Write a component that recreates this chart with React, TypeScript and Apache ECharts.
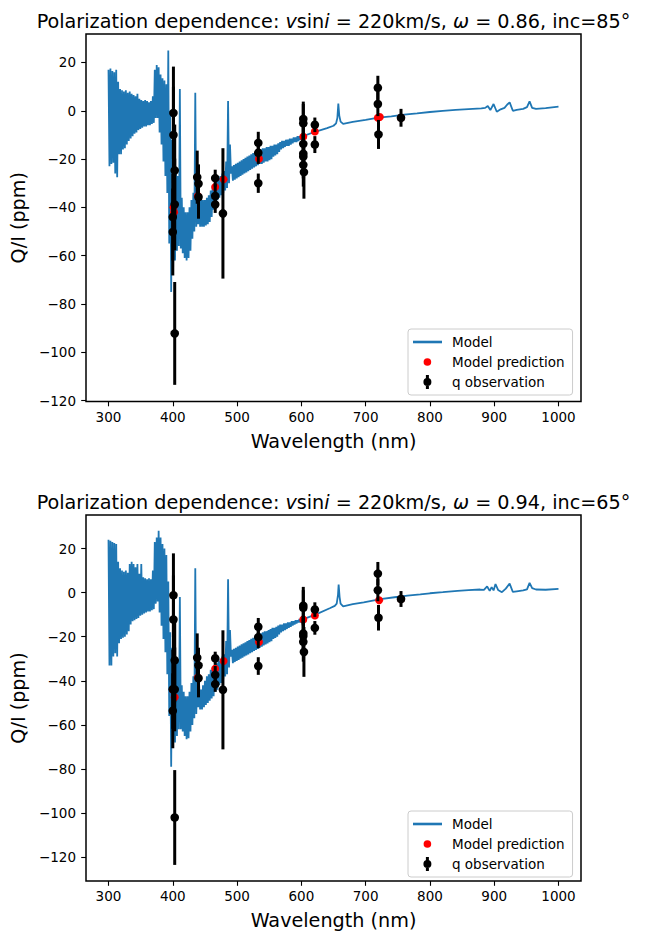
import React, { useEffect, useRef } from 'react';
import * as echarts from 'echarts';

const FONT = 'DejaVu Sans';
const BLUE = '#1f77b4';

// ---- axes ----
const X_TICKS = [300, 400, 500, 600, 700, 800, 900, 1000];
const Y_TICKS = [-120, -100, -80, -60, -40, -20, 0, 20];

// ---- titles ----
const OMEGAS = ['0.86', '0.94'];
const INCLINATIONS = ['85', '65'];

// ---- model spectrum: noisy band 300..597 nm, 3 nm steps (upper / lower envelope) ----
const BAND_START = 300;
const BAND_STEP = 3;

const MODEL1_UPPER = [
  17, 17.5, 16.5, 16, 17, 12, 9, 8.5, 8, 8.5,
  7.5, 8, 7, 6.5, 6, 7, 5, 4.5, 4, 4.5,
  4, 3.5, 4, 6, 17, 19, 18, 15, 13.5, 12.5,
  11, 25, 0, -12, -20, -25, -27, 9, -36, -40,
  -42, -42, -40, -37, -34, 7.5, -32, -34, -36, -37,
  -37, -36, -35, -33, -31, -30, -29, -28, -27, -26,
  -25, -21, 4, -14, -23, -22.5, -22, -21.5, -21, -20.5,
  -20, -19.5, -19, -18.5, -18, -17.5, -17, -16.5, -16.5, -16,
  -15.5, -15.5, -15, -15, -14.5, -14.5, -14, -14, -13.5, -13,
  -12.5, -12.5, -12, -12, -11.5, -11.5, -11, -11, -10.5, -10.5,
];
const MODEL1_LOWER = [
  -23, -22, -21.5, -26, -27.5, -18, -18, -16, -15.5, -14,
  -12.5, -11.5, -10.5, -9.5, -9, -8, -7.5, -7, -6.5, -6.5,
  -6, -6, -5.5, -5, -3, -3, -9, -14, -21, -27,
  -34, -55, -75, -66, -62, -58, -56, -57, -59, -61,
  -62, -61, -58, -53, -50, -48, -47, -48, -48, -48,
  -47.5, -47, -46, -44, -41, -39, -37, -36, -35, -34,
  -33, -32, -30, -26, -29, -28.5, -28, -27.5, -27, -26.5,
  -26, -25.5, -25, -24.5, -24, -23.5, -23, -22.5, -22, -22,
  -21.5, -21, -21, -20.5, -20, -19, -18.5, -18, -17, -16,
  -15.5, -15, -14.5, -14.5, -14, -13.5, -13, -13, -12.5, -12,
];
const MODEL1_TAIL_WL = [
  600, 620, 640, 650, 654, 656, 657.5, 659, 661, 665,
  680, 700, 720, 740, 760, 780, 800, 820, 840, 860,
  880, 886, 890, 894, 899, 904, 910, 916, 920, 924,
  929, 935, 945, 951, 955, 959, 965, 980, 1000,
];
const MODEL1_TAIL_Q = [
  -10.8, -8.8, -7.2, -6.2, -5.2, -3, 3, -2, -4.5, -5.4,
  -4.6, -3.8, -2.8, -2.3, -1.6, -1.1, -0.5, 0, 0.4, 0.7,
  1, 1.2, 2, 0.3, 2.8, -0.4, 0.6, 1.2, 2.5, 3.5,
  0, 0.4, 0.8, 1.5, 3.9, 1.2, 0.8, 1.1, 1.7,
];

const MODEL2_UPPER = [
  24, 23.5, 23, 22.5, 22, 14, 11, 10, 9.5, 10,
  9, 13, 14, 13, 11.5, 13, 8.5, 13, 7, 6.5,
  6, 6.5, 6, 10, 23, 25, 28, 25, 22, 20,
  17, 5, -18, -25, -28, -30, -31, -2, -42, -45,
  -47, -47, -45, -41, -38, 11, -40, -42, -44, -42,
  -40, -38, -37, -35, -34, -33, -32, -31, -30, -29,
  -28, -22, 6, -17, -26, -25.5, -25, -24.5, -24, -23.5,
  -23, -22.5, -22, -21.5, -21, -20.5, -20, -19.5, -19, -18.5,
  -18, -17.5, -17.5, -17, -16.5, -16, -16, -15.5, -15, -14.5,
  -14.5, -14, -14, -13.5, -13.5, -13, -13, -12.5, -12.5, -12,
];
const MODEL2_LOWER = [
  -33, -33, -29, -27.5, -29, -23, -21, -20.5, -20, -19,
  -17.5, -14.5, -13, -12.5, -12, -11.5, -10.5, -10, -9.5, -9,
  -8.5, -8.5, -8, -7.5, -5, -4, -9, -15, -21, -27,
  -37, -56, -79, -70, -68, -65, -62, -62, -63, -65,
  -66.5, -66, -63, -60, -57, -55, -52, -53, -53, -52,
  -51, -50, -49, -48, -47, -45, -44, -42, -41, -39,
  -38, -37, -34, -29, -32, -31.5, -31, -30.5, -30, -29.5,
  -29, -28.5, -28, -27.5, -27, -26.5, -26, -25.5, -25, -24.5,
  -24, -23.5, -23, -22.5, -22, -21, -20.5, -20, -19, -18,
  -17.5, -17, -16.5, -16, -15.5, -15, -14.5, -14, -13.5, -13.5,
];
const MODEL2_TAIL_WL = [
  600, 622, 645, 652, 655, 657, 658, 659.5, 661, 665,
  680, 697, 723, 745, 765, 785, 800, 820, 843, 860,
  878, 884, 889, 893, 896, 899, 902, 906, 912, 918,
  924, 929, 935, 945, 951, 955, 959, 965, 980, 1000,
];
const MODEL2_TAIL_Q = [
  -12.4, -10, -7, -6, -5, -1, 3.6, -2, -5, -6.2,
  -5.2, -4.4, -3, -2.1, -1.4, -0.8, -0.3, 0.2, 0.8, 1.1,
  1.4, 1.2, 2.8, 0.8, 2.5, 1, 3.9, 1.2, 0.2, 1.8,
  4.1, 0.3, 0.6, 1, 1.5, 4.4, 2, 1.4, 1.3, 1.7,
];

// ---- model predictions (wavelength, Q/I) ----
const PRED1 = [
  [401, -40], [402, -42], [439, -35.3], [466, -31.6], [479, -28.4],
  [534, -19.9], [603, -10.7], [621, -8.6], [719, -2.9], [722, -2.6], [755, -2.9],
];
const PRED2 = [
  [400, -44], [403, -47.5], [439, -38.5], [466, -34.5], [479, -31],
  [534, -22.4], [603, -12.2], [621, -10.4], [721, -3.5], [755, -2.9],
];

// ---- q observations (wavelength, Q/I, error) ----
const OBS1 = [
  [401, -0.9, 19.2], [401, -10, 20], [403, -24.7, 19], [403, -38.8, 19],
  [400, -44, 18], [400, -50.2, 18], [403, -92.2, 21.3],
  [438, -27.5, 11], [440, -30.2, 8], [440, -35.7, 9],
  [466, -27.9, 3.5], [466, -35.3, 5], [466, -38.8, 3.5], [478, -42.5, 27],
  [533, -13.3, 4.6], [533, -17.4, 4.6], [533, -30, 4],
  [603, -3.4, 7.2], [603, -5.2, 8], [603, -13.7, 7], [603, -17.8, 8],
  [603, -19, 9], [603, -22.4, 9], [604, -25.4, 11],
  [621, -5.8, 3], [621, -14, 3.5],
  [719, 9.5, 5], [719, 2.8, 5], [720, -9.8, 6],
  [755, -2.9, 3.7],
];
const OBS2 = [
  [401, -1.2, 19], [401, -12.2, 20], [403, -30.7, 19], [403, -43.9, 19],
  [400, -43.8, 18], [400, -53.6, 17], [403, -102, 21.5],
  [438, -29.5, 11], [440, -33, 8], [440, -38.8, 8.7],
  [466, -29.8, 3], [466, -37.3, 4], [466, -41.5, 3.5], [478, -44.1, 27],
  [533, -15.5, 4], [533, -20.2, 5], [533, -33.3, 4],
  [603, -5.9, 8.5], [603, -6.9, 8], [603, -18.5, 8], [603, -19.7, 8],
  [603, -22.3, 9], [604, -26.9, 11.3],
  [621, -7.7, 3.3], [621, -16, 3.1],
  [719, 8.6, 5.3], [719, 1.1, 5], [720, -11.4, 5.8],
  [755, -2.9, 3.6],
];

const Y_RANGES = [
  [-120.4, 31.8],
  [-130.8, 35.2],
];

function buildModel(up: number[], lo: number[], tw: number[], tq: number[]) {
  const pts: number[][] = [];
  up.forEach((u, i) => {
    const wl = BAND_START + BAND_STEP * i;
    pts.push([wl, u]);
    pts.push([wl + BAND_STEP / 2, lo[i]]);
  });
  tw.forEach((w, i) => pts.push([w, tq[i]]));
  return pts;
}

const minus = (v: number) => String(v).replace('-', '\u2212');

const LEGEND_ICON_LINE = 'path://M0,0L0,0M34,14L34,14M0,5.7H29V8.3H0Z';
const LEGEND_ICON_DOT = 'path://M0,0L0,0M34,14L34,14M14.4,3.2A3.8,3.8 0 1 1 14.4,10.8A3.8,3.8 0 1 1 14.4,3.2Z';
const LEGEND_ICON_ERR = 'path://M0,0L0,0M34,14L34,14M12.9,0H15.9V14H12.9ZM14.4,3A4,4 0 1 1 14.4,11A4,4 0 1 1 14.4,3Z';

export default function App() {
  const ref = useRef<HTMLDivElement>(null);
  useEffect(() => {
    if (!ref.current) return;
    const chart = echarts.init(ref.current, null, { renderer: 'svg' });
    const grids = [
      { left: 86, top: 34, width: 495, height: 367.5 },
      { left: 86, top: 515, width: 495, height: 368 },
    ];
    const models = [
      buildModel(MODEL1_UPPER, MODEL1_LOWER, MODEL1_TAIL_WL, MODEL1_TAIL_Q),
      buildModel(MODEL2_UPPER, MODEL2_LOWER, MODEL2_TAIL_WL, MODEL2_TAIL_Q),
    ];
    const preds = [PRED1, PRED2];
    const obs = [OBS1, OBS2];

    const series: any[] = [];
    [0, 1].forEach((g) => {
      series.push({
        name: 'Model',
        type: 'line',
        xAxisIndex: g,
        yAxisIndex: g,
        data: models[g],
        showSymbol: false,
        symbol: 'none',
        lineStyle: { color: BLUE, width: 1.8 },
        itemStyle: { color: BLUE },
        z: 2,
      });
      series.push({
        name: 'Model prediction',
        type: 'scatter',
        xAxisIndex: g,
        yAxisIndex: g,
        data: preds[g],
        symbol: 'circle',
        symbolSize: 8,
        itemStyle: { color: '#ff0000', opacity: 1 },
        z: 3,
      });
      series.push({
        name: 'q observation',
        type: 'custom',
        xAxisIndex: g,
        yAxisIndex: g,
        data: obs[g],
        encode: { x: 0, y: 1 },
        itemStyle: { color: '#000' },
        z: 4,
        renderItem: (params: any, api: any) => {
          const x = api.value(0);
          const y = api.value(1);
          const e = api.value(2);
          const top = api.coord([x, y + e]);
          const bot = api.coord([x, y - e]);
          const c = api.coord([x, y]);
          return {
            type: 'group',
            children: [
              {
                type: 'line',
                shape: { x1: top[0], y1: top[1], x2: bot[0], y2: bot[1] },
                style: { stroke: '#000', lineWidth: 3 },
              },
              {
                type: 'circle',
                shape: { cx: c[0], cy: c[1], r: 4.3 },
                style: { fill: '#000' },
              },
            ],
          };
        },
      });
    });

    const tickStyle = { show: true, inside: false, length: 4.8, lineStyle: { color: '#000', width: 1.1 } };

    const legendTops = [329, 811];

    const titleRich = {
      n: { fontSize: 19.2, fontFamily: FONT, fill: '#000' },
      i: { fontSize: 19.2, fontFamily: FONT, fontStyle: 'italic', fill: '#000' },
    };
    const titleYs = [21.5, 502.5];

    const option: any = {
      animation: false,
      backgroundColor: '#ffffff',
      textStyle: { fontFamily: FONT },
      grid: grids.map((g) => ({
        ...g,
        show: true,
        borderColor: '#000',
        borderWidth: 1.5,
        backgroundColor: 'transparent',
      })),
      xAxis: [0, 1].map((g) => ({
        type: 'value',
        gridIndex: g,
        position: 'bottom',
        min: 265,
        max: 1035,
        axisLine: { show: false, onZero: false },
        splitLine: { show: false },
        axisTick: { ...tickStyle, customValues: X_TICKS },
        axisLabel: {
          customValues: X_TICKS,
          margin: 8,
          color: '#000',
          fontSize: 13.5,
          fontFamily: FONT,
          formatter: (v: number) => minus(v),
        },
        name: 'Wavelength (nm)',
        nameLocation: 'middle',
        nameGap: 30,
        nameTextStyle: { fontSize: 19.2, fontFamily: FONT, color: '#000' },
      })),
      yAxis: [0, 1].map((g) => ({
        type: 'value',
        gridIndex: g,
        position: 'left',
        min: Y_RANGES[g][0],
        max: Y_RANGES[g][1],
        axisLine: { show: false, onZero: false },
        splitLine: { show: false },
        axisTick: { ...tickStyle, customValues: Y_TICKS },
        axisLabel: {
          customValues: Y_TICKS,
          margin: 10,
          color: '#000',
          fontSize: 13.5,
          fontFamily: FONT,
          formatter: (v: number) => minus(v),
        },
        name: 'Q/I (ppm)',
        nameLocation: 'middle',
        nameRotate: 90,
        nameGap: 48,
        nameTextStyle: { fontSize: 19.2, fontFamily: FONT, color: '#000' },
      })),
      legend: legendTops.map((t) => ({
        orient: 'vertical',
        left: 408,
        top: t,
        padding: [6, 8, 6, 5],
        itemWidth: 34,
        itemHeight: 14,
        itemGap: 6,
        selectedMode: false,
        borderColor: '#cccccc',
        borderWidth: 1,
        borderRadius: 3,
        backgroundColor: 'rgba(255,255,255,0.8)',
        textStyle: { fontSize: 13.5, fontFamily: FONT, color: '#000', lineHeight: 14 },
        data: [
          { name: 'Model', icon: LEGEND_ICON_LINE, itemStyle: { color: BLUE, borderWidth: 0 } },
          { name: 'Model prediction', icon: LEGEND_ICON_DOT, itemStyle: { color: '#ff0000', borderWidth: 0 } },
          { name: 'q observation', icon: LEGEND_ICON_ERR, itemStyle: { color: '#000', borderWidth: 0 } },
        ],
      })),
      graphic: [0, 1].map((g) => ({
        type: 'text',
        x: 333.5,
        y: titleYs[g],
        style: {
          text: `{n|Polarization dependence: }{i|v}{n|sin}{i|i}{n| = 220km/s, }{i|ω}{n| = ${OMEGAS[g]}, inc=${INCLINATIONS[g]}°}`,
          rich: titleRich,
          align: 'center',
          verticalAlign: 'middle',
        },
      })),
      series,
    };
    chart.setOption(option);
    return () => chart.dispose();
  }, []);
  return (
    <div
      ref={ref}
      style={{ position: 'absolute', left: 0, top: 0, width: 649, height: 931, background: '#fff' }}
    />
  );
}
